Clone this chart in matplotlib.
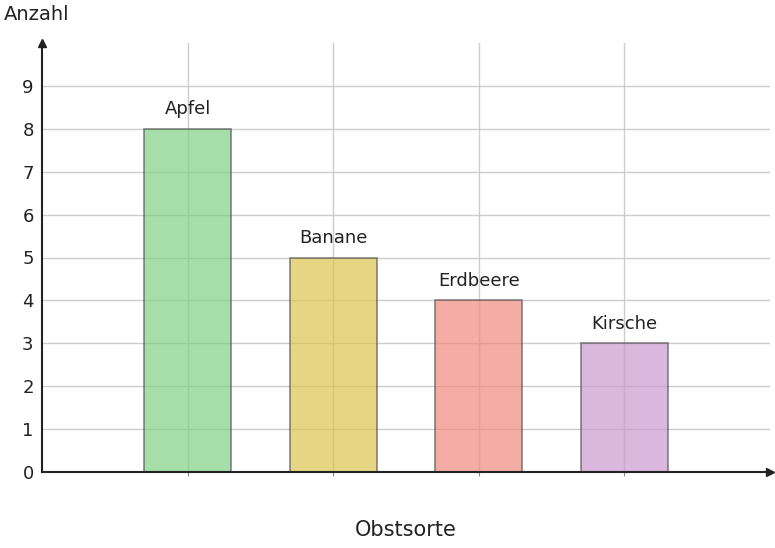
import matplotlib
matplotlib.use("Agg")
import matplotlib.pyplot as plt

categories = ["Apfel", "Banane", "Erdbeere", "Kirsche"]
values = [8, 5, 4, 3]
colors = ["#7fd184", "#dcc550", "#f08a7e", "#cb9ad0"]
positions = [1, 2, 3, 4]

fig = plt.figure(figsize=(7.75, 5.48), dpi=100)
ax = fig.add_axes([42/775, 76/548, 728/775, 429/548])
ax.set_xlim(0, 5)
ax.set_ylim(0, 10)
ax.set_axisbelow(True)
ax.grid(True, color="#cccccc", linewidth=1)
ax.set_xticks(positions)
ax.set_xticklabels([])
ax.set_yticks(range(0, 10))
ax.tick_params(axis="y", length=0, labelsize=13, colors="#222222", pad=6)
ax.tick_params(axis="x", length=3, color="#888888")
for s in ["top", "right"]:
    ax.spines[s].set_visible(False)
for s in ["left", "bottom"]:
    ax.spines[s].set_color("#222222")
    ax.spines[s].set_linewidth(1.5)
ax.plot(1, 0, ">", color="#222222", transform=ax.transAxes, clip_on=False, markersize=6)
ax.plot(0, 1, "^", color="#222222", transform=ax.transAxes, clip_on=False, markersize=6)

bars = ax.bar(positions, values, width=0.6, color=colors, alpha=0.7,
              edgecolor="#555555", linewidth=1.2)
for b in bars:
    b.set_edgecolor((0.33, 0.33, 0.33, 0.8))
for x, v, c in zip(positions, values, categories):
    ax.text(x, v + 0.25, c, ha="center", va="bottom", fontsize=13, color="#222222")

fig.text(4/775, 1 - 14/548, "Anzahl", fontsize=14, va="center", ha="left", color="#222222")
fig.text(406/775, 1 - 530/548, "Obstsorte", fontsize=15, va="center", ha="center", color="#222222")
fig.savefig("out.png", dpi=100)
